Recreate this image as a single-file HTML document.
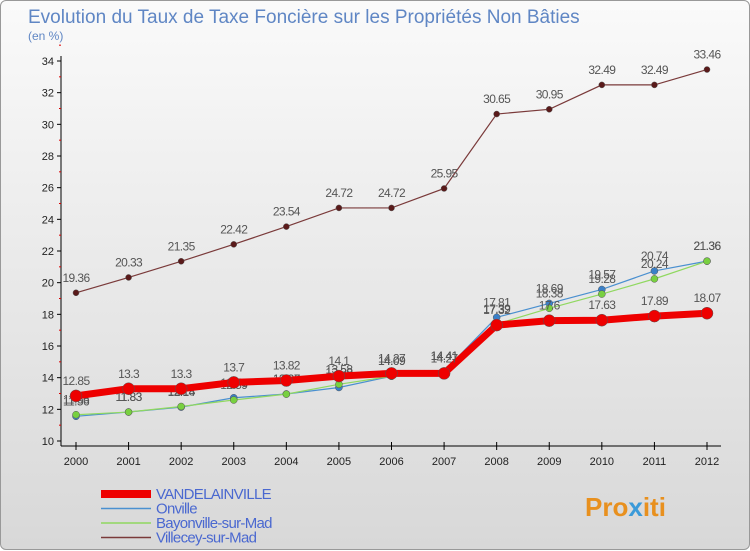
<!DOCTYPE html>
<html><head><meta charset="utf-8"><style>
body{margin:0;width:750px;height:550px;overflow:hidden;font-family:"Liberation Sans",sans-serif}
#wrap{position:absolute;left:0;top:0;width:748px;height:548px;border:1px solid #999;border-radius:6px;background:linear-gradient(#fafafa,#d8d8d8)}
</style></head><body>
<div id="wrap">
<svg id="c" width="750" height="550" style="position:absolute;left:0;top:0">
<text x="27" y="22" font-size="19" fill="#5f86c4">Evolution du Taux de Taxe Foncière sur les Propriétés Non Bâties</text>
<text x="27" y="39" font-size="12" fill="#5f86c4">(en %)</text>
<g id="axes"></g><g id="series"></g><g id="legend"></g>
<text x="584" y="515" font-size="26" font-weight="bold" fill="#e8901e">Pro<tspan fill="#3a9ad9">x</tspan>iti</text>
</svg></div>
<script>
const years=[2000,2001,2002,2003,2004,2005,2006,2007,2008,2009,2010,2011,2012];
const yTicks=[10,12,14,16,18,20,22,24,26,28,30,32,34];
const vandelainville=[12.85,13.3,13.3,13.7,13.82,14.1,14.27,14.27,17.32,17.6,17.63,17.89,18.07];
const onville=[11.56,11.83,12.14,12.73,12.97,13.38,14.09,14.41,17.81,18.69,19.57,20.74,21.36];
const bayonville=[11.66,11.83,12.18,12.59,12.96,13.58,14.09,14.41,17.39,18.38,19.28,20.24,21.36];
const villecey=[19.36,20.33,21.35,22.42,23.54,24.72,24.72,25.95,30.65,30.95,32.49,32.49,33.46];
const seriesNames=["VANDELAINVILLE","Onville","Bayonville-sur-Mad","Villecey-sur-Mad"];
const NS="http://www.w3.org/2000/svg";
const X=i=>75+i*(706-75)/12, Y=v=>440-(v-10)*(380/24);
function mk(t,a,p){const e=document.createElementNS(NS,t);for(const k in a)e.setAttribute(k,a[k]);p.appendChild(e);return e;}
const ax=document.getElementById('axes');
let yl=mk('line',{x1:60,y1:55,x2:60,y2:445,stroke:'#000'},ax);


let xl=mk('line',{x1:60,y1:445,x2:720,y2:445,stroke:'#000'},ax);


yTicks.forEach(v=>{mk('line',{x1:56,y1:Y(v),x2:60,y2:Y(v),stroke:'#000'},ax);
 mk('line',{x1:58,y1:Y(v+1),x2:60,y2:Y(v+1),stroke:'#d00'},ax);
 const t=mk('text',{x:53,y:Y(v)+4,'font-size':11,'text-anchor':'end',fill:'#222'},ax);t.textContent=v;
 
 });
years.forEach((y,i)=>{mk('line',{x1:X(i),y1:441,x2:X(i),y2:449,stroke:'#000'},ax);
 const t=mk('text',{x:X(i),y:464,'font-size':11,'text-anchor':'middle',fill:'#222'},ax);t.textContent=y;
 
 });
const sg=document.getElementById('series');
function draw(data,color,w,r,fill,name){const g=mk('g',{},sg);
 
 
 mk('polyline',{points:data.map((v,i)=>X(i)+','+Y(v)).join(' '),fill:'none',stroke:color,'stroke-width':w},g);
 data.forEach((v,i)=>{const c=mk('circle',{cx:X(i),cy:Y(v),r:r,fill:fill,stroke:'#555','stroke-width':0.5},g);
  
  
  const t=mk('text',{x:X(i),y:Y(v)-11,'font-size':12,'text-anchor':'middle',fill:'#555','letter-spacing':'-0.6'},g);t.textContent=v;});}
draw(villecey,'#7a3a3a',1.2,3,'#5a1a1a','series-villecey');
draw(onville,'#4a90d0',1.2,3.5,'#3a80c8','series-onville');
draw(bayonville,'#90d860',1.2,3.5,'#78d040','series-bayonville');
draw(vandelainville,'#ee0000',7,6,'#ee0000','series-vandelainville');
const lg=document.getElementById('legend');
const lc=[['#ee0000',8],['#4a90d0',1.5],['#90d860',1.5],['#7a3a3a',1.5]];
seriesNames.forEach((n,i)=>{const y=493+i*14.5;const g=mk('g',{},lg);
 
 
 mk('line',{x1:100,y1:y,x2:150,y2:y,stroke:lc[i][0],'stroke-width':lc[i][1]},g);
 const t=mk('text',{x:155,y:y+5,'font-size':15,fill:'#4a68d0','letter-spacing':'-0.7'},g);t.textContent=n;});
</script></body></html>
